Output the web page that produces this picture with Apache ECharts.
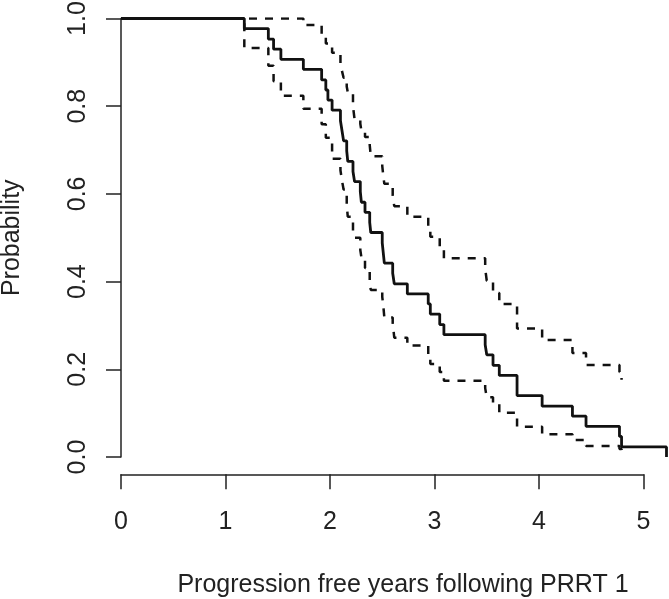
<!DOCTYPE html>
<html>
<head>
<meta charset="utf-8">
<script src="https://cdn.jsdelivr.net/npm/echarts@6/dist/echarts.min.js"></script>
<style>
  html, body { margin: 0; padding: 0; background: #fff; }
  #main { width: 669px; height: 599px; }
</style>
</head>
<body>
<div id="main"></div>
<script>
// survival estimate (step times + value after each drop)
var timeEst = [0, 1.18, 1.41, 1.46, 1.53, 1.745, 1.92, 1.96, 1.98, 2.02, 2.10, 2.115, 2.13, 2.16, 2.17, 2.22, 2.235, 2.29, 2.30, 2.335, 2.38, 2.39, 2.50, 2.51, 2.52, 2.60, 2.615, 2.74, 2.94, 2.96, 3.05, 3.09, 3.485, 3.50, 3.56, 3.62, 3.79, 4.03, 4.32, 4.45, 4.77, 4.79, 5.22];
var survEst = [1, 0.977, 0.953, 0.930, 0.907, 0.884, 0.860, 0.837, 0.814, 0.791, 0.767, 0.744, 0.721, 0.698, 0.674, 0.651, 0.628, 0.605, 0.581, 0.558, 0.535, 0.512, 0.488, 0.465, 0.442, 0.419, 0.395, 0.372, 0.349, 0.326, 0.302, 0.279, 0.256, 0.233, 0.209, 0.186, 0.140, 0.116, 0.093, 0.070, 0.047, 0.023, 0];

// upper confidence limit
var timeUp = [0, 1.745, 1.92, 1.96, 2.02, 2.10, 2.115, 2.13, 2.16, 2.17, 2.22, 2.235, 2.29, 2.30, 2.335, 2.38, 2.39, 2.50, 2.51, 2.52, 2.60, 2.615, 2.74, 2.94, 2.96, 3.05, 3.09, 3.485, 3.50, 3.56, 3.62, 3.79, 4.03, 4.32, 4.45, 4.77, 4.79];
var survUp = [1, 0.985, 0.962, 0.943, 0.922, 0.895, 0.880, 0.865, 0.845, 0.832, 0.800, 0.770, 0.760, 0.745, 0.730, 0.712, 0.686, 0.664, 0.641, 0.623, 0.597, 0.572, 0.548, 0.525, 0.502, 0.477, 0.453, 0.430, 0.402, 0.374, 0.349, 0.293, 0.267, 0.237, 0.210, 0.194, 0.176];

// lower confidence limit
var timeLo = [0, 1.18, 1.41, 1.46, 1.53, 1.745, 1.92, 1.96, 2.02, 2.10, 2.115, 2.13, 2.16, 2.17, 2.22, 2.235, 2.29, 2.30, 2.335, 2.38, 2.39, 2.50, 2.51, 2.52, 2.60, 2.615, 2.74, 2.94, 2.96, 3.05, 3.09, 3.485, 3.50, 3.56, 3.62, 3.79, 4.03, 4.32, 4.45, 4.77, 4.79];
var survLo = [1, 0.933, 0.892, 0.857, 0.824, 0.794, 0.759, 0.728, 0.680, 0.654, 0.630, 0.610, 0.575, 0.548, 0.515, 0.500, 0.472, 0.456, 0.431, 0.400, 0.381, 0.365, 0.345, 0.318, 0.306, 0.272, 0.254, 0.233, 0.212, 0.194, 0.174, 0.157, 0.136, 0.121, 0.101, 0.069, 0.052, 0.039, 0.025, 0.018, 0.011];

var xTicks = [0, 1, 2, 3, 4, 5];
var yTicks = [0, 0.2, 0.4, 0.6, 0.8, 1.0];

var xTitle = 'Progression free years following PRRT 1';
var yTitle = 'Probability';

function pairs(t, v) {
  var out = [];
  for (var i = 0; i < t.length; i++) out.push([t[i], v[i]]);
  return out;
}

var FONT = '"Liberation Sans", Arial, sans-serif';
var INK = '#222';

var chart = echarts.init(document.getElementById('main'), null, { renderer: 'canvas' });

var option = {
  animation: false,
  backgroundColor: '#fff',
  grid: [
    // plot area (x 0..5.244, y 0..1)
    { left: 121, top: 18.5, width: 548, height: 438.5, outerBoundsMode: 'none', containLabel: false },
    // detached R-style x axis
    { left: 121, top: 470, width: 522.5, height: 4.3, outerBoundsMode: 'none', containLabel: false }
  ],
  xAxis: [
    { gridIndex: 0, type: 'value', min: 0, max: 5.244, show: false },
    {
      gridIndex: 1, type: 'value', min: xTicks[0], max: xTicks[xTicks.length - 1], interval: 1,
      position: 'bottom',
      axisLine: { show: true, lineStyle: { color: INK, width: 1.5 } },
      axisTick: { show: true, inside: false, length: 15, lineStyle: { color: INK, width: 1.5 } },
      axisLabel: { show: true, margin: 35, color: INK, fontSize: 25, fontFamily: FONT },
      splitLine: { show: false }
    }
  ],
  yAxis: [
    {
      gridIndex: 0, type: 'value', min: yTicks[0], max: yTicks[yTicks.length - 1], interval: 0.2,
      position: 'left',
      name: yTitle, nameLocation: 'middle', nameRotate: 90, nameGap: 96,
      nameTextStyle: { color: INK, fontSize: 25, fontFamily: FONT },
      axisLine: { show: true, lineStyle: { color: INK, width: 1.5 } },
      axisTick: { show: true, inside: false, length: 15, lineStyle: { color: INK, width: 1.5 } },
      axisLabel: {
        show: true, rotate: 90, margin: 30, color: INK, fontSize: 25, fontFamily: FONT,
        formatter: function (v) { return v.toFixed(1); }
      },
      splitLine: { show: false }
    },
    { gridIndex: 1, type: 'value', show: false }
  ],
  graphic: [
    {
      type: 'text', x: 403, y: 585,
      style: {
        text: xTitle, fill: INK, font: '25px ' + FONT,
        align: 'center', verticalAlign: 'middle',
        textAlign: 'center', textVerticalAlign: 'middle'
      }
    }
  ],
  series: [
    {
      name: 'upper', type: 'line', step: 'end', showSymbol: false, silent: true,
      xAxisIndex: 0, yAxisIndex: 0,
      lineStyle: { color: '#111', width: 2.5, type: [8, 8] },
      data: pairs(timeUp, survUp)
    },
    {
      name: 'lower', type: 'line', step: 'end', showSymbol: false, silent: true,
      xAxisIndex: 0, yAxisIndex: 0,
      lineStyle: { color: '#111', width: 2.5, type: [8, 8] },
      data: pairs(timeLo, survLo)
    },
    {
      name: 'estimate', type: 'line', step: 'end', showSymbol: false, silent: true,
      xAxisIndex: 0, yAxisIndex: 0,
      lineStyle: { color: '#111', width: 2.8 },
      data: pairs(timeEst, survEst)
    }
  ]
};

chart.setOption(option);
</script>
</body>
</html>
